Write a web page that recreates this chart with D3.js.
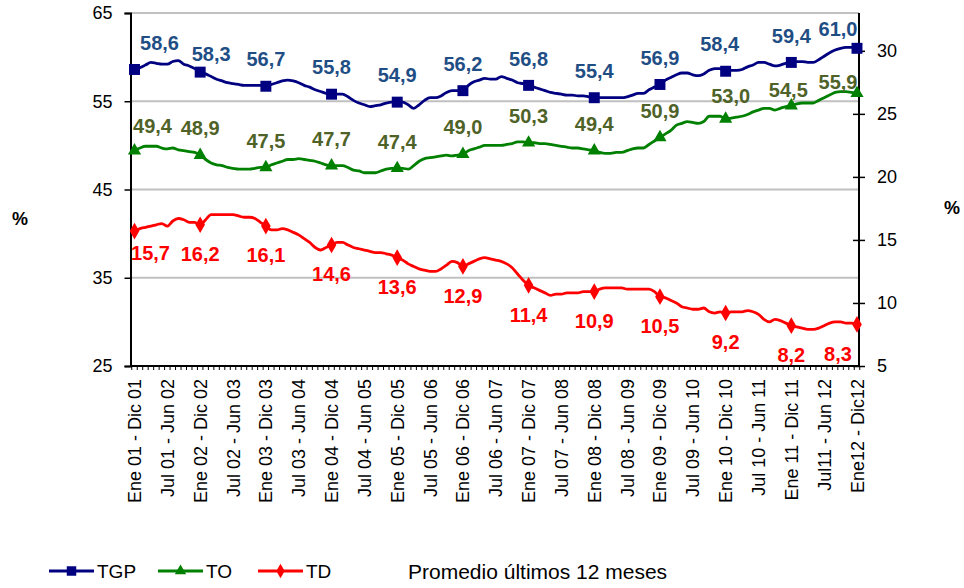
<!DOCTYPE html>
<html>
<head>
<meta charset="utf-8">
<script src="https://cdn.jsdelivr.net/npm/d3@7"></script>
<style>
    body { margin: 0; background: #fff; }
    #chart-area { width: 964px; height: 588px; }
    text { font-family: "Liberation Sans", Arial, sans-serif; }
</style>
</head>
<body>
<div id="chart-area"></div>
<script>
// 12-month rolling averages, one point per month (Ene01-Dic01 ... Ene12-Dic12)
const tgpValues = [
    58.6, 58.8, 59.1, 59.4, 59.3, 59.2, 59.2, 59.5, 59.6, 59.2, 59.0, 58.7, 58.3,
    58.1, 57.8, 57.5, 57.3, 57.1, 57.0, 56.9, 56.8, 56.8, 56.8, 56.8, 56.7,
    56.9, 57.1, 57.3, 57.4, 57.3, 57.1, 56.8, 56.6, 56.3, 56.1, 55.9, 55.8,
    55.8, 55.8, 55.5, 55.1, 54.8, 54.6, 54.4, 54.5, 54.6, 54.8, 54.9, 54.9,
    54.9, 54.6, 54.2, 54.6, 55.1, 55.4, 55.4, 55.6, 56.0, 56.2, 56.2, 56.2,
    56.8, 57.2, 57.4, 57.6, 57.5, 57.5, 57.8, 57.6, 57.4, 57.1, 57.0, 56.8,
    56.6, 56.4, 56.2, 56.0, 55.9, 55.8, 55.7, 55.7, 55.6, 55.6, 55.5, 55.4,
    55.4, 55.4, 55.4, 55.4, 55.4, 55.5, 55.7, 55.9, 55.9, 56.3, 56.6, 56.9,
    57.4, 57.7, 58.0, 58.2, 58.2, 58.0, 57.9, 58.1, 58.5, 58.7, 58.7, 58.4,
    58.5, 58.5, 58.6, 58.9, 59.1, 59.4, 59.4, 59.2, 59.0, 59.1, 59.3, 59.4,
    59.5, 59.5, 59.4, 59.4, 59.7, 60.1, 60.5, 60.8, 61.0, 61.1, 61.1, 61.0
];

const toValues = [
    49.4, 49.7, 49.9, 49.9, 49.9, 49.7, 49.6, 49.7, 49.5, 49.4, 49.3, 49.2, 48.9,
    48.4, 48.0, 47.8, 47.7, 47.5, 47.4, 47.3, 47.3, 47.3, 47.4, 47.5, 47.5,
    47.8, 48.0, 48.2, 48.4, 48.4, 48.5, 48.4, 48.3, 48.2, 48.0, 47.8, 47.7,
    47.7, 47.7, 47.5, 47.2, 47.1, 46.9, 46.9, 46.9, 47.1, 47.3, 47.4, 47.4,
    47.4, 47.3, 47.7, 48.2, 48.5, 48.6, 48.7, 48.8, 48.9, 48.8, 48.9, 49.0,
    49.4, 49.6, 49.8, 50.0, 50.0, 50.0, 50.0, 50.1, 50.2, 50.4, 50.4, 50.3,
    50.3, 50.2, 50.2, 50.1, 50.0, 49.9, 49.8, 49.7, 49.7, 49.6, 49.5, 49.4,
    49.2, 49.1, 49.1, 49.2, 49.2, 49.4, 49.6, 49.7, 49.7, 50.1, 50.5, 50.9,
    51.3, 51.7, 52.3, 52.5, 52.7, 52.6, 52.5, 52.7, 53.3, 53.3, 53.3, 53.0,
    53.1, 53.2, 53.3, 53.5, 53.8, 54.0, 54.2, 54.2, 54.0, 54.2, 54.4, 54.5,
    54.7, 54.8, 54.8, 54.8, 55.1, 55.4, 55.7, 56.0, 56.1, 56.1, 56.0, 55.9
];

const tdValues = [
    15.7, 15.9, 16.0, 16.1, 16.2, 16.3, 16.1, 16.5, 16.7, 16.6, 16.4, 16.4, 16.2,
    16.6, 17.0, 17.0, 17.0, 17.0, 17.0, 16.9, 16.8, 16.8, 16.7, 16.4, 16.1,
    15.8, 15.8, 15.9, 15.8, 15.6, 15.4, 15.1, 14.8, 14.4, 14.2, 14.4, 14.6,
    14.8, 14.8, 14.6, 14.4, 14.3, 14.2, 14.1, 14.0, 14.0, 13.9, 13.8, 13.6,
    13.4, 13.1, 12.9, 12.7, 12.6, 12.5, 12.5, 12.7, 13.0, 13.3, 13.2, 12.9,
    13.1, 13.3, 13.5, 13.6, 13.5, 13.4, 13.3, 13.1, 12.8, 12.3, 11.8, 11.4,
    11.2, 11.0, 10.8, 10.6, 10.7, 10.7, 10.8, 10.8, 10.8, 10.9, 10.9, 10.9,
    11.1, 11.2, 11.2, 11.2, 11.2, 11.1, 11.1, 11.1, 11.1, 11.1, 10.9, 10.5,
    10.4, 10.2, 10.0, 9.7, 9.6, 9.5, 9.5, 9.6, 9.3, 9.2, 9.3, 9.2,
    9.3, 9.3, 9.3, 9.4, 9.3, 9.1, 8.7, 8.5, 8.7, 8.6, 8.4, 8.2,
    8.1, 8.0, 7.9, 7.9, 8.0, 8.2, 8.4, 8.5, 8.5, 8.4, 8.4, 8.3
];

// one label every 6 months
const tickLabels = [
    "Ene 01 - Dic 01", "Jul 01 - Jun 02", "Ene 02 - Dic 02", "Jul 02 - Jun 03",
    "Ene 03 - Dic 03", "Jul 03 - Jun 04", "Ene 04 - Dic 04", "Jul 04 - Jun 05",
    "Ene 05 - Dic 05", "Jul 05 - Jun 06", "Ene 06 - Dic 06", "Jul 06 - Jun 07",
    "Ene 07 - Dic 07", "Jul 07 - Jun 08", "Ene 08 - Dic 08", "Jul 08 - Jun 09",
    "Ene 09 - Dic 09", "Jul 09 - Jun 10", "Ene 10 - Dic 10", "Jul 10 - Jun 11",
    "Ene 11 - Dic 11", "Jul11 - Jun 12", "Ene12 - Dic12"
];

const leftTicks = [25, 35, 45, 55, 65];
const rightTicks = [5, 10, 15, 20, 25, 30];
const seriesNames = ["TGP", "TO", "TD"];
const footNote = "Promedio últimos 12 meses";


class RateVis {

    constructor(parentElement) {
        this.parentElement = parentElement;
        this.series = [
            {name: "TGP", values: tgpValues, axis: "left", line: "#000080", label: "#1F4E85", symbol: d3.symbolSquare, size: 120, above: true,
                nudge: {0: [25, 0], 1: [11, 9], 9: [-6, 0], 11: [-19, 7]}},
            {name: "TO", values: toValues, axis: "left", line: "#008000", label: "#4F6228", symbol: d3.symbolTriangle, size: 75, above: true,
                nudge: {0: [18, 2], 9: [5, 4], 10: [-3, 11], 11: [-19, 15]}},
            {name: "TD", values: tdValues, axis: "right", line: "#FF0000", label: "#FF0000", symbol: d3.symbolDiamond, size: 80, above: false,
                nudge: {0: [16, -7], 11: [-19, 0]}}
        ];
        this.initVis();
    }

    initVis() {
        let vis = this;

        vis.left = 130.5;
        vis.right = 859;
        vis.top = 13;
        vis.bottom = 366;

        vis.svg = d3.select("#" + vis.parentElement).append("svg")
            .attr("width", 964)
            .attr("height", 588);

        vis.n = tgpValues.length;

        vis.x = d3.scaleLinear()
            .domain([0, vis.n - 1])
            .range([134.5, 857]);

        vis.yLeft = d3.scaleLinear()
            .domain([25, 65])
            .range([vis.bottom, vis.top]);

        vis.yRight = d3.scaleLinear()
            .domain([5, 33])
            .range([vis.bottom, vis.top]);

        // gridlines
        vis.svg.append("g")
            .selectAll("line")
            .data(leftTicks.slice(1))
            .enter()
            .append("line")
            .attr("x1", vis.left)
            .attr("x2", vis.right)
            .attr("y1", d => vis.yLeft(d))
            .attr("y2", d => vis.yLeft(d))
            .attr("stroke", "#C0C0C0")
            .attr("stroke-width", 2);

        // left axis
        vis.leftAxis = d3.axisLeft(vis.yLeft)
            .tickValues(leftTicks)
            .tickSize(6)
            .tickPadding(12);

        vis.svg.append("g")
            .attr("class", "axis")
            .attr("transform", `translate(${vis.left}, 0)`)
            .call(vis.leftAxis);

        // right axis, ticks cross the line
        vis.rightAxis = d3.axisRight(vis.yRight)
            .tickValues(rightTicks)
            .tickSize(6)
            .tickPadding(12);

        let ra = vis.svg.append("g")
            .attr("class", "axis")
            .attr("transform", `translate(${vis.right}, 0)`)
            .call(vis.rightAxis);
        ra.selectAll(".tick line").attr("x1", -6);
        ra.select(".domain").attr("d", `M0,${vis.top}V${vis.bottom}`);

        vis.svg.selectAll(".axis .domain")
            .attr("stroke", "#000")
            .attr("stroke-width", 2);
        vis.svg.selectAll(".axis .tick line")
            .attr("stroke", "#000")
            .attr("stroke-width", 1.5);
        vis.svg.selectAll(".axis .tick text")
            .attr("font-size", 18)
            .attr("fill", "#000");

        // category axis: a small tick on every month boundary
        let step = vis.x(1) - vis.x(0);
        vis.svg.append("g")
            .selectAll("line")
            .data(d3.range(vis.n + 1))
            .enter()
            .append("line")
            .attr("x1", d => vis.x(d) - step / 2)
            .attr("x2", d => vis.x(d) - step / 2)
            .attr("y1", vis.bottom)
            .attr("y2", vis.bottom + 4)
            .attr("stroke", "#000")
            .attr("stroke-width", 1);

        vis.svg.append("line")
            .attr("x1", vis.left)
            .attr("x2", vis.right)
            .attr("y1", vis.bottom)
            .attr("y2", vis.bottom)
            .attr("stroke", "#000")
            .attr("stroke-width", 2);

        vis.svg.append("g")
            .selectAll("text")
            .data(tickLabels)
            .enter()
            .append("text")
            .attr("transform", (d, i) => `translate(${vis.x(i * 6) + 6.5}, ${vis.bottom + 13}) rotate(-90)`)
            .attr("text-anchor", "end")
            .attr("font-size", 18)
            .attr("fill", "#000")
            .text(d => d);

        // % unit labels
        vis.svg.append("text")
            .attr("x", 20)
            .attr("y", 225)
            .attr("text-anchor", "middle")
            .attr("font-size", 18)
            .attr("font-weight", "bold")
            .text("%");
        vis.svg.append("text")
            .attr("x", 952)
            .attr("y", 214)
            .attr("text-anchor", "middle")
            .attr("font-size", 18)
            .attr("font-weight", "bold")
            .text("%");

        vis.wrangleData();
    }

    wrangleData() {
        let vis = this;
        let fmt = d3.format(".1f");

        vis.series.forEach(s => {
            s.y = s.axis === "left" ? vis.yLeft : vis.yRight;
            s.points = s.values.map((v, i) => ({i: i, v: v}));
            s.marks = s.points.filter(p => p.i % 12 === 0)
                .map((p, k) => ({i: p.i, v: p.v, k: k, text: fmt(p.v).replace(".", ",")}));
        });

        vis.updateVis();
    }

    updateVis() {
        let vis = this;

        vis.series.forEach(s => {
            let line = d3.line()
                .curve(d3.curveMonotoneX)
                .x(d => vis.x(d.i))
                .y(d => s.y(d.v));

            vis.svg.append("path")
                .datum(s.points)
                .attr("d", line)
                .attr("fill", "none")
                .attr("stroke", s.line)
                .attr("stroke-width", 2.8)
                .attr("stroke-linejoin", "round");

            vis.svg.append("g")
                .selectAll("path")
                .data(s.marks)
                .enter()
                .append("path")
                .attr("d", d3.symbol().type(s.symbol).size(s.size))
                .attr("transform", d => `translate(${vis.x(d.i)}, ${s.y(d.v)})`)
                .attr("fill", s.line);
        });

        // data labels drawn last so they sit over the lines
        vis.series.forEach(s => {
            vis.svg.append("g")
                .selectAll("text")
                .data(s.marks)
                .enter()
                .append("text")
                .attr("x", d => vis.x(d.i) + (s.nudge[d.k] ? s.nudge[d.k][0] : 0))
                .attr("y", d => s.y(d.v) + (s.above ? -27 : 29) + (s.nudge[d.k] ? s.nudge[d.k][1] : 0))
                .attr("dy", "0.36em")
                .attr("text-anchor", "middle")
                .attr("font-size", 20)
                .attr("font-weight", "bold")
                .attr("fill", s.label)
                .text(d => d.text);
        });

        // legend
        let legend = vis.svg.append("g")
            .attr("transform", "translate(0, 571)");
        let legendX = [49, 158, 258];

        vis.series.forEach((s, i) => {
            let g = legend.append("g")
                .attr("transform", `translate(${legendX[i]}, 0)`);
            g.append("line")
                .attr("x1", 0)
                .attr("x2", 45)
                .attr("stroke", s.line)
                .attr("stroke-width", 3);
            g.append("path")
                .attr("d", d3.symbol().type(s.symbol).size(s.size * 0.75))
                .attr("transform", "translate(22.5, 0)")
                .attr("fill", s.line);
            g.append("text")
                .attr("x", 48)
                .attr("dy", "0.36em")
                .attr("font-size", 19)
                .attr("fill", "#000")
                .text(seriesNames[i]);
        });

        legend.append("text")
            .attr("x", 408)
            .attr("dy", "0.36em")
            .attr("font-size", 21)
            .attr("fill", "#000")
            .text(footNote);
    }
}

new RateVis("chart-area");
</script>
</body>
</html>
